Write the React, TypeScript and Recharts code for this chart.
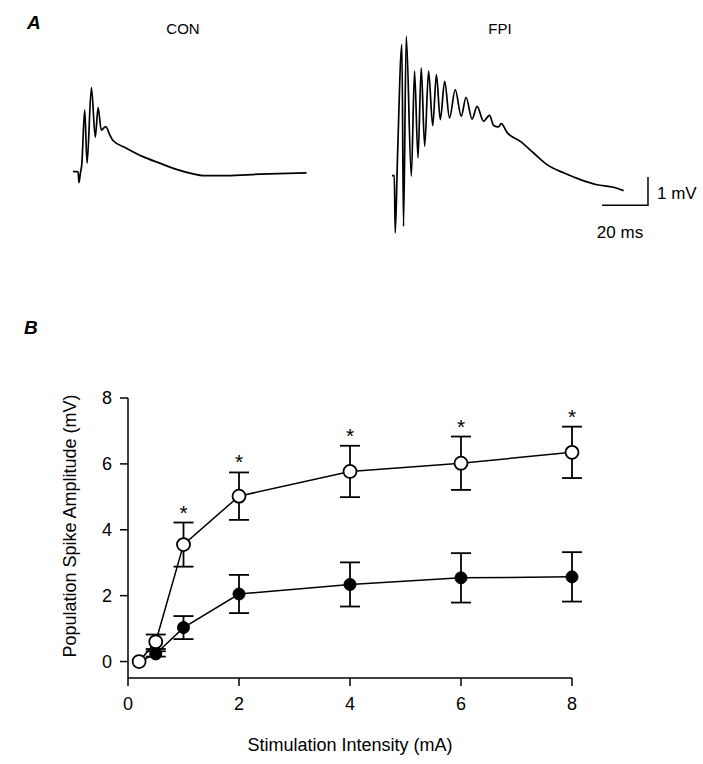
import { LineChart, Line, XAxis, YAxis, ComposedChart, Scatter, ErrorBar } from 'recharts';

// Panel A: field potential traces (time in ms, amplitude in mV)
const conTime = [0, 2.2, 2.6, 3.2, 3.8, 5.1, 6.1, 8.0, 9.7, 10.9, 12.3, 14.2, 16.0, 17.4, 23.2, 30.4, 37.7, 45.0, 52.2, 56.5, 66.7, 81.2, 101.5];
const conMv = [0, 0, -0.39, -0.06, 0.24, 2.18, 0.3, 2.97, 1.22, 2.26, 1.47, 1.59, 1.3, 1.1, 0.83, 0.53, 0.3, 0.08, -0.08, -0.14, -0.14, -0.09, -0.04];

const fpiTime = [0, 1.0, 1.4, 2.4, 4.3, 5.0, 6.2, 8.4, 9.8, 11.3, 12.7, 14.2, 15.9, 17.7, 19.3, 21.0, 22.9, 25.0, 27.5, 30.1, 32.2, 34.8, 37.0, 39.8, 42.4, 44.2, 46.3, 47.5, 50.0, 55.8, 61.6, 67.4, 74.6, 81.9, 89.1, 96.3, 100.7];
const fpiMv = [0, 0, -2.02, 0.68, 4.63, -1.79, 4.92, -0.02, 3.69, 0.63, 3.81, 1.04, 3.69, 1.77, 3.57, 1.98, 3.33, 2.04, 3.04, 2.1, 2.77, 2.0, 2.45, 1.92, 2.13, 1.77, 1.72, 1.84, 1.53, 1.21, 0.8, 0.39, 0.1, -0.14, -0.32, -0.41, -0.53];

// scale bar: 20 ms x 1 mV
const barTime = [91.3, 111.3, 111.3];
const barMv = [-1.05, -1.05, -0.05];

// Panel B: input/output curve
const intensity = [0.2, 0.5, 1, 2, 4, 6, 8];
const fpiMean = [0, 0.6, 3.55, 5.02, 5.77, 6.02, 6.35];
const fpiSem = [0, 0.22, 0.67, 0.72, 0.78, 0.81, 0.78];
const conMean = [0, 0.23, 1.03, 2.05, 2.34, 2.54, 2.57];
const conSem = [0, 0.08, 0.35, 0.58, 0.67, 0.75, 0.75];
const significant = [false, false, true, true, true, true, true];
const xTicks = [0, 2, 4, 6, 8];
const yTicks = [0, 2, 4, 6, 8];

const FONT = '"Liberation Sans", Arial, Helvetica, sans-serif';
const PX_PER_MS = 2.3;
const PX_PER_MV = 28.3;
const MV_DOMAIN: [number, number] = [-3, 5.5];
const TRACE_H = (MV_DOMAIN[1] - MV_DOMAIN[0]) * PX_PER_MV;

const conTrace = conTime.map((t, i) => ({ t, v: conMv[i] }));
const fpiTrace = fpiTime.map((t, i) => ({ t, v: fpiMv[i] }));
const scaleBar = barTime.map((t, i) => ({ t, v: barMv[i] }));

const ioData = intensity.map((x, i) => ({
  x,
  fpi: fpiMean[i],
  fpiErr: fpiSem[i],
  con: conMean[i],
  conErr: conSem[i],
}));
const stars = intensity
  .map((x, i) => ({ x, top: fpiMean[i] + fpiSem[i], sig: significant[i] }))
  .filter((d) => d.sig);

const Star = (props: any) => (
  <text x={props.cx} y={props.cy - 3} textAnchor="middle" fontSize={21} fontFamily={FONT} fill="#000">
    *
  </text>
);

const Trace = ({ data, extra, widthPx }: { data: any[]; extra?: any[]; widthPx: number }) => (
  <LineChart width={widthPx} height={TRACE_H} margin={{ top: 0, right: 0, bottom: 0, left: 0 }}>
    <XAxis type="number" dataKey="t" domain={[0, widthPx / PX_PER_MS]} hide allowDataOverflow />
    <YAxis type="number" domain={MV_DOMAIN} hide allowDataOverflow />
    <Line data={data} dataKey="v" type="monotone" stroke="#000" strokeWidth={1.7} dot={false} isAnimationActive={false} />
    {extra && (
      <Line data={extra} dataKey="v" type="linear" stroke="#000" strokeWidth={1.5} dot={false} isAnimationActive={false} />
    )}
  </LineChart>
);

const abs = (left: number, top: number, extra: any = {}) => ({
  position: 'absolute' as const,
  left,
  top,
  fontFamily: FONT,
  color: '#000',
  whiteSpace: 'nowrap' as const,
  lineHeight: 1,
  ...extra,
});

const App = () => {
  return (
    <div style={{ position: 'absolute', left: 0, top: 0, width: 703, height: 764, background: '#fff' }}>
      <div style={abs(27, 13, { fontSize: 19, fontWeight: 'bold', fontStyle: 'italic' })}>A</div>
      <div style={abs(183, 28, { fontSize: 15, transform: 'translate(-50%, -50%)' })}>CON</div>
      <div style={abs(500, 28, { fontSize: 15, transform: 'translate(-50%, -50%)' })}>FPI</div>

      <div style={{ position: 'absolute', left: 73.3, top: 171.7 - MV_DOMAIN[1] * PX_PER_MV }}>
        <Trace data={conTrace} widthPx={240} />
      </div>
      <div style={{ position: 'absolute', left: 391.7, top: 176 - MV_DOMAIN[1] * PX_PER_MV }}>
        <Trace data={fpiTrace} extra={scaleBar} widthPx={260} />
      </div>
      <div style={abs(657, 193, { fontSize: 17, transform: 'translateY(-50%)' })}>1 mV</div>
      <div style={abs(620, 232, { fontSize: 17, transform: 'translate(-50%, -50%)' })}>20 ms</div>

      <div style={abs(24, 318, { fontSize: 19, fontWeight: 'bold', fontStyle: 'italic' })}>B</div>

      <div style={{ position: 'absolute', left: 0, top: 370 }}>
        <ComposedChart width={703} height={394} data={ioData} margin={{ top: 28, right: 131, bottom: 8, left: 0 }}>
          <XAxis
            type="number"
            dataKey="x"
            domain={[0, 8]}
            ticks={xTicks}
            tickSize={8}
            tickMargin={11}
            axisLine={{ stroke: '#000', strokeWidth: 1.5 }}
            tickLine={{ stroke: '#000', strokeWidth: 1.5 }}
            tick={{ fill: '#000', fontSize: 18, fontFamily: FONT }}
            height={78}
            label={(p: any) => {
              const vb = p.viewBox;
              return (
                <text x={vb.x + vb.width / 2} y={vb.y + 67} textAnchor="middle" dominantBaseline="central" fontSize={18} fontFamily={FONT} fill="#000">
                  Stimulation Intensity (mA)
                </text>
              );
            }}
          />
          <YAxis
            type="number"
            domain={[-0.5, 8]}
            ticks={yTicks}
            width={128}
            tickSize={8}
            tickMargin={8}
            axisLine={{ stroke: '#000', strokeWidth: 1.5 }}
            tickLine={{ stroke: '#000', strokeWidth: 1.5 }}
            tick={{ fill: '#000', fontSize: 18, fontFamily: FONT }}
            label={(p: any) => {
              const vb = p.viewBox;
              const cx = 70;
              const cy = vb.y + vb.height / 2 - 12;
              return (
                <text x={cx} y={cy} transform={`rotate(-90 ${cx} ${cy})`} textAnchor="middle" dominantBaseline="central" fontSize={18} fontFamily={FONT} fill="#000">
                  Population Spike Amplitude (mV)
                </text>
              );
            }}
          />
          <Line
            dataKey="con"
            type="linear"
            stroke="#000"
            strokeWidth={1.5}
            dot={{ r: 6, fill: '#000', stroke: '#000', strokeWidth: 1 }}
            activeDot={false}
            isAnimationActive={false}
          >
            <ErrorBar dataKey="conErr" direction="y" width={10} stroke="#000" strokeWidth={1.8} />
          </Line>
          <Line
            dataKey="fpi"
            type="linear"
            stroke="#000"
            strokeWidth={1.5}
            dot={{ r: 6.5, fill: '#fff', stroke: '#000', strokeWidth: 1.8 }}
            activeDot={false}
            isAnimationActive={false}
          >
            <ErrorBar dataKey="fpiErr" direction="y" width={10} stroke="#000" strokeWidth={1.8} />
          </Line>
          <Scatter data={stars} dataKey="top" shape={<Star />} isAnimationActive={false} />
        </ComposedChart>
      </div>
    </div>
  );
};

export default App;
